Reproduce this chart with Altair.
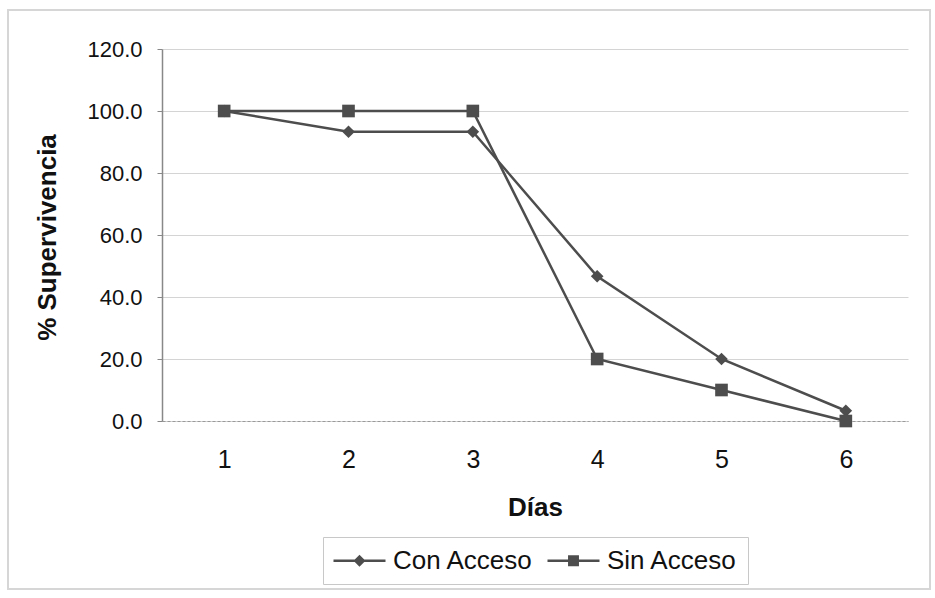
import altair as alt
import pandas as pd

dias = [1, 2, 3, 4, 5, 6]
con_acceso = [100.0, 93.3, 93.3, 46.7, 20.0, 3.3]
sin_acceso = [100.0, 100.0, 100.0, 20.0, 10.0, 0.0]
series = ["Con Acceso", "Sin Acceso"]
y_ticks = [0, 20, 40, 60, 80, 100, 120]

df = pd.DataFrame({
    "Días": dias + dias,
    "Supervivencia": con_acceso + sin_acceso,
    "Serie": [series[0]] * len(dias) + [series[1]] * len(dias),
})

INK = "#4d4d4d"
FONT = "Liberation Sans"

x = alt.X(
    "Días:O",
    scale=alt.Scale(type="point", padding=0.5),
    axis=alt.Axis(
        title="Días", labelAngle=0, labelFontSize=25, labelPadding=26,
        labelColor="#111", ticks=False, domainColor="#9a9a9a", domainWidth=1,
        domainDash=[3, 2], grid=False,
        titleFontSize=26, titleFontWeight="bold", titleColor="#111",
        titleX=373, titleY=86, titleBaseline="middle", titleAlign="center",
    ),
)
y = alt.Y(
    "Supervivencia:Q",
    scale=alt.Scale(domain=[0, 120], nice=False, zero=True),
    axis=alt.Axis(
        title="% Supervivencia", values=y_ticks, format=".1f",
        labelFontSize=22, labelPadding=15, labelColor="#111",
        tickSize=5, tickColor="#888", domainColor="#888", domainWidth=1.5,
        gridColor="#d4d4d4", gridWidth=1,
        titleFontSize=26, titleFontWeight="bold", titleColor="#111",
        titleX=-115, titleY=188, titleAngle=270, titleAlign="center",
        titleBaseline="middle",
    ),
)

base = alt.Chart(df)

frame = base.mark_rect(fill=None, stroke="#d6d6d6", strokeWidth=1.5).encode(
    x=alt.value(-154), x2=alt.value(768), y=alt.value(-39), y2=alt.value(540)
)

lines = base.mark_line(color=INK, strokeWidth=2.5).encode(
    x=x, y=y, detail="Serie:N"
)

points = base.mark_point(filled=True, color=INK, size=160, opacity=1).encode(
    x=x, y=y,
    shape=alt.Shape("Serie:N", scale=alt.Scale(domain=series, range=["diamond", "square"]), legend=None),
)

legend_paths = [
    "M-1,-0.09H3V0.09H-1ZM1,-0.46L1.46,0L1,0.46L0.54,0Z",
    "M-1,-0.09H3V0.09H-1ZM0.58,-0.42H1.42V0.42H0.58Z",
]
legend_layer = base.mark_point(filled=True, fill=INK, stroke=INK, strokeWidth=1, opacity=0).encode(
    x=x, y=y,
    shape=alt.Shape(
        "Serie:N",
        scale=alt.Scale(domain=series, range=legend_paths),
        legend=alt.Legend(
            title=None, orient="none", legendX=161, legendY=488,
            direction="horizontal", padding=10, strokeColor="#c8c8c8",
            symbolSize=676, symbolOpacity=1, symbolFillColor=INK,
            symbolStrokeColor=INK, symbolStrokeWidth=0.5,
            labelFont=FONT, labelFontSize=26, labelColor="#111",
            labelOffset=33, columnPadding=12,
        ),
    ),
)

chart = (
    alt.layer(frame, lines, points, legend_layer)
    .resolve_scale(shape="independent")
    .properties(
        width=746, height=372,
        padding={"left": 162, "top": 49, "right": 27, "bottom": 177},
        autosize=alt.AutoSizeParams(type="none"),
    )
    .configure(font=FONT)
    .configure_view(stroke=None)
)

chart.save("out.html", embed_options={"renderer": "svg", "actions": False})
